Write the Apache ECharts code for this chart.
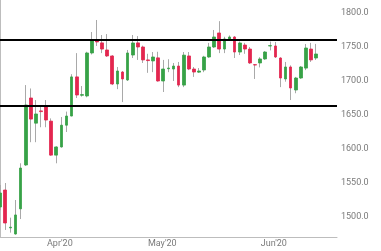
<!DOCTYPE html>
<html><head><meta charset="utf-8">
<script src="https://cdn.jsdelivr.net/npm/echarts@6/dist/echarts.min.js"></script>
<style>html,body{margin:0;padding:0;background:#fff}#c{width:381px;height:251px}</style>
</head><body><div id="c"></div>
<script>
// OHLC values, one entry per trading day
const opens  = [1514.7,1539.7,1484,1475,1512,1576.5,1675,1638,1656,1662,1641,1591,1603,1635,1648.5,1706,1679,1678,1741.2,1760.3,1756,1745.6,1736.8,1695.6,1713.2,1701.5,1738.2,1756,1750,1731,1729.5,1734,1700,1718,1717.6,1722,1694,1736.8,1717.6,1713,1716.2,1735.3,1750,1770.6,1747,1761.8,1764.7,1742.6,1752.9,1747,1724,1726.5,1732.4,1751.5,1751.5,1733.8,1703,1720.6,1686.8,1704.4,1719,1747,1733.8];
const closes = [1535.3,1491.2,1485,1503,1572,1664.7,1644,1651.5,1655,1642.6,1591,1603,1635,1648.5,1706,1679.4,1680,1741.2,1758.8,1757.4,1747,1736.8,1695.6,1714.7,1703,1741.2,1755.9,1750,1731,1730,1735.3,1700,1717.6,1719,1722,1694,1738,1717.6,1713.2,1714.7,1735.3,1750,1764.7,1747,1761.8,1764.7,1742.6,1755.9,1747,1726.5,1723.5,1732.4,1742.6,1752,1735.3,1704.4,1720.6,1689.7,1704.4,1720.6,1748.5,1731,1739.7];
const lows   = [1510,1481,1477,1474,1497,1575,1610,1610,1632,1632,1590,1579,1602,1625,1648,1675,1677,1676,1739,1751.5,1741,1735.3,1694,1688,1669,1700,1733.8,1731,1726.5,1712,1713,1699,1683.8,1713,1700,1691,1691,1716,1706,1711.8,1713,1734,1748.5,1741,1741,1759,1733.8,1738.2,1740,1725,1703,1720,1731,1745,1733.8,1691,1699,1672,1682,1703,1716,1728,1731];
const highs  = [1547,1550,1499,1525,1579,1694,1689,1672,1662,1672,1645,1604,1647,1655,1710,1741,1692.6,1743,1772,1789.7,1767.6,1769,1738,1720.6,1714.7,1745.6,1767.6,1766,1752,1740,1742.6,1743,1731,1732,1726.5,1728,1742.6,1742.6,1720.6,1719,1737,1756,1775,1788,1765,1767,1766,1758,1756,1750,1725,1735,1744,1758,1757.4,1735,1728,1723,1706,1722,1754.4,1756,1754.5];
const monthLabels = ["Apr'20","May'20","Jun'20"];
const monthPos = [11.7,31.8,53.7];
const yTicks = [1500,1550,1600,1650,1700,1750,1800];
const levels = [1760,1664];

const wickData = opens.map((o,i)=>[i,o,closes[i],lows[i],highs[i]]);
const bodyData = opens.map((o,i)=>[i,o,closes[i],Math.min(o,closes[i]),Math.max(o,closes[i])]);

const chart = echarts.init(document.getElementById('c'), null, {renderer:'canvas'});
const GREEN = '#37a247', RED = '#e3264f', WICK = '#a9a9a9';
chart.setOption({
  animation:false,
  backgroundColor:'#fff',
  grid:{left:0,right:44,top:0,bottom:14,containLabel:false},
  xAxis:{
    type:'value', min:-0.05, max:66.1,
    axisLine:{show:true,lineStyle:{color:'#bdbdbd',width:1}},
    axisTick:{show:false}, splitLine:{show:false},
    axisLabel:{customValues:monthPos, margin:2, color:'#7a7a7a', fontSize:9, fontFamily:'Roboto',
      formatter:(v)=>{const k=monthPos.indexOf(v);return k>=0?monthLabels[k]:'';}}
  },
  yAxis:{
    type:'value', position:'right', min:1470.6, max:1819.1, scale:true,
    axisLine:{show:true,lineStyle:{color:'#bdbdbd',width:1}},
    axisTick:{show:false}, splitLine:{show:false},
    axisLabel:{customValues:yTicks, margin:4, color:'#7a7a7a', fontSize:9, fontFamily:'Roboto',
      formatter:(v)=>v.toFixed(1)}
  },
  series:[
    {type:'candlestick', data:wickData, barWidth:1,
     itemStyle:{color:WICK,color0:WICK,borderColor:WICK,borderColor0:WICK,borderWidth:1}},
    {type:'candlestick', data:bodyData, barWidth:3.2,
     itemStyle:{color:GREEN,color0:RED,borderColor:GREEN,borderColor0:RED,borderWidth:0.8},
     markLine:{silent:true, symbol:['none','none'], label:{show:false}, animation:false,
       lineStyle:{color:'#000',width:2,type:'solid'},
       data:levels.map(v=>({yAxis:v}))}}
  ]
});
</script>
</body></html>
